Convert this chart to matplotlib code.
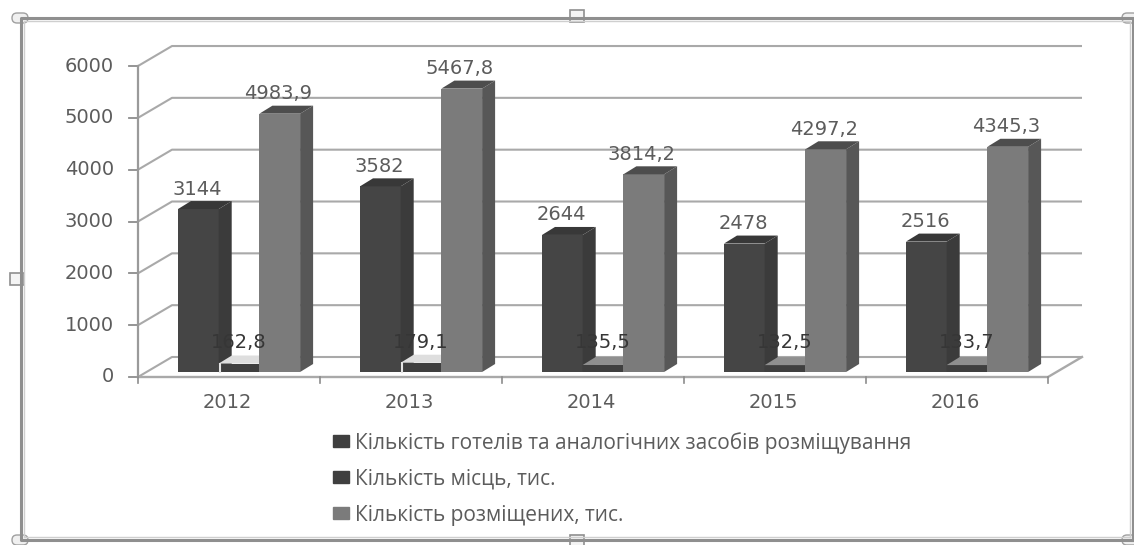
import matplotlib
matplotlib.use("Agg")
import matplotlib.pyplot as plt
from matplotlib.patches import Polygon, Rectangle, FancyBboxPatch, Patch
from matplotlib.lines import Line2D
from matplotlib.transforms import Affine2D

years = ["2012", "2013", "2014", "2015", "2016"]
hotels = [3144, 3582, 2644, 2478, 2516]
places = [162.8, 179.1, 135.5, 132.5, 133.7]
guests = [4983.9, 5467.8, 3814.2, 4297.2, 4345.3]
hotels_lbl = ["3144", "3582", "2644", "2478", "2516"]
places_lbl = ["162,8", "179,1", "135,5", "132,5", "133,7"]
guests_lbl = ["4983,9", "5467,8", "3814,2", "4297,2", "4345,3"]
series_names = ["Кількість готелів та аналогічних засобів розміщування",
                "Кількість місць, тис.", "Кількість розміщених, тис."]
yticks = [0, 1000, 2000, 3000, 4000, 5000, 6000]

W, H = 1134, 545
GREY = "#5c5c5c"
GRID = "#a9a9a9"
FONT = "DejaVu Sans"

fig = plt.figure(figsize=(W / 100, H / 100), dpi=100, facecolor="white")
ax = fig.add_axes([0, 0, 1, 1])
PXX = 182.0          # px per category
PXY = 51.83 / 1000   # px per value unit
Y0 = 377
ax.set_xlim(-227 / PXX, (W - 227) / PXX)
ax.set_ylim(-(H - Y0) / PXY, Y0 / PXY)
ax.axis("off")

dx, dy = 34 / PXX, 20 / PXY             # wall depth
bdx, bdy = 13 / PXX, 8 / PXY            # bar depth
base = 5 / PXY                          # bar base above the axis line
x_left = -89 / PXX
x_right = x_left + 5
w = 40.7 / PXX

# walls: grid
for v in yticks:
    ax.plot([x_left, x_left + dx, x_right + dx], [v, v + dy, v + dy],
            color=GRID, lw=1.5, zorder=1, solid_capstyle="butt")
    ax.plot([x_left - 9 / PXX, x_left], [v, v], color="#8c8c8c", lw=1.3, zorder=1)
ax.plot([x_left, x_left], [0, 6000], color="#9a9a9a", lw=1.6, zorder=1)
ax.plot([x_left, x_right, x_right + dx], [0, 0, dy], color=GRID, lw=1.7, zorder=1)
for i in range(6):
    ax.plot([x_left + i, x_left + i], [0, -6 / PXY], color="#8c8c8c", lw=1.2, zorder=1)


def bar3d(x, v, front, side, top, z):
    ax.bar(x, v, width=w, bottom=base, align="edge", color=front, zorder=z, lw=0)
    t = base + v
    ax.add_patch(Polygon([(x + w, base), (x + w + bdx, base + bdy), (x + w + bdx, t + bdy), (x + w, t)],
                         facecolor=side, lw=0, zorder=z))
    ax.add_patch(Polygon([(x, t), (x + bdx, t + bdy), (x + w + bdx, t + bdy), (x + w, t)],
                         facecolor=top, lw=0, zorder=z))


for i in range(len(years)):
    x0 = i - 49 / PXX
    bar3d(x0, hotels[i], "#454545", "#3b3b3b", "#383838", 3)
    bar3d(x0 + w, places[i], "#3f3f3f", "#3a3a3a", "#dedede" if i < 2 else "#8f8f8f", 4)
    bar3d(x0 + 2 * w, guests[i], "#7b7b7b", "#575757", "#4d4d4d", 5)
    if i < 2:
        # pale sliver between the first and second bars
        ax.plot([x0 + w + 1.5 / PXX] * 2, [base, base + places[i]], color="#e4e4e4", lw=1.5, zorder=6)
    kw = dict(ha="center", va="center", fontsize=14, color=GREY, family=FONT, zorder=8,
              textcoords="offset pixels")
    ax.annotate(hotels_lbl[i], (x0 + w / 2, hotels[i]), xytext=(-1, 25), **kw)
    ax.annotate(guests_lbl[i], (x0 + 2.5 * w, guests[i]), xytext=(-2, 25), **kw)
    kw["color"] = "#363636"
    ax.annotate(places_lbl[i], (i + 12 / PXX, 0), xytext=(0, 34), **kw)
    ax.text(i, -25 / PXY, years[i], ha="center", va="center", fontsize=14, color=GREY, family=FONT)

for v in yticks:
    ax.text(x_left - 24 / PXX, v, str(v), ha="right", va="center", fontsize=14,
            color=GREY, family=FONT)

handles = [Patch(color="#3f3f3f"), Patch(color="#3f3f3f"), Patch(color="#7b7b7b")]
ax.legend(handles, series_names, loc="upper left", bbox_to_anchor=(316 / W, 1 - 415 / H),
          frameon=False, labelcolor=GREY, labelspacing=0.72,
          handlelength=0.8, handleheight=0.5, handletextpad=0.25, borderpad=0.3,
          prop={"family": "Open Sans", "size": 15})

# selection frame of the embedded chart, drawn in figure pixels
px = Affine2D().scale(1 / W, 1 / H) + fig.transFigure
def yp(p):
    return H - p
for col, lw, off in (("#8f8f8f", 2.2, 0), ("#cfcfcf", 1.0, 3)):
    fig.add_artist(Line2D([1133 - off, 1133 - off, 21 + off, 21 + off, 1133 - off],
                          [yp(540 - off), yp(18 + off), yp(18 + off), yp(540 - off), yp(540 - off)],
                          color=col, lw=lw, transform=px))
for cx, cy in ((577, 16), (577, 541), (17, 279)):
    fig.add_artist(Rectangle((cx - 7, yp(cy) - 6), 14, 12, facecolor="#f4f4f4", edgecolor="#8f8f8f",
                             lw=1.2, transform=px))
for cx, cy in ((20, 18), (20, 540), (1130, 18), (1130, 540)):
    fig.add_artist(FancyBboxPatch((cx - 8, yp(cy) - 5), 16, 10, boxstyle="round,pad=0,rounding_size=5",
                                  facecolor="#f0f0f0", edgecolor="#a0a0a0", lw=1.0, transform=px))

fig.savefig("out.png", dpi=100, facecolor="white")
